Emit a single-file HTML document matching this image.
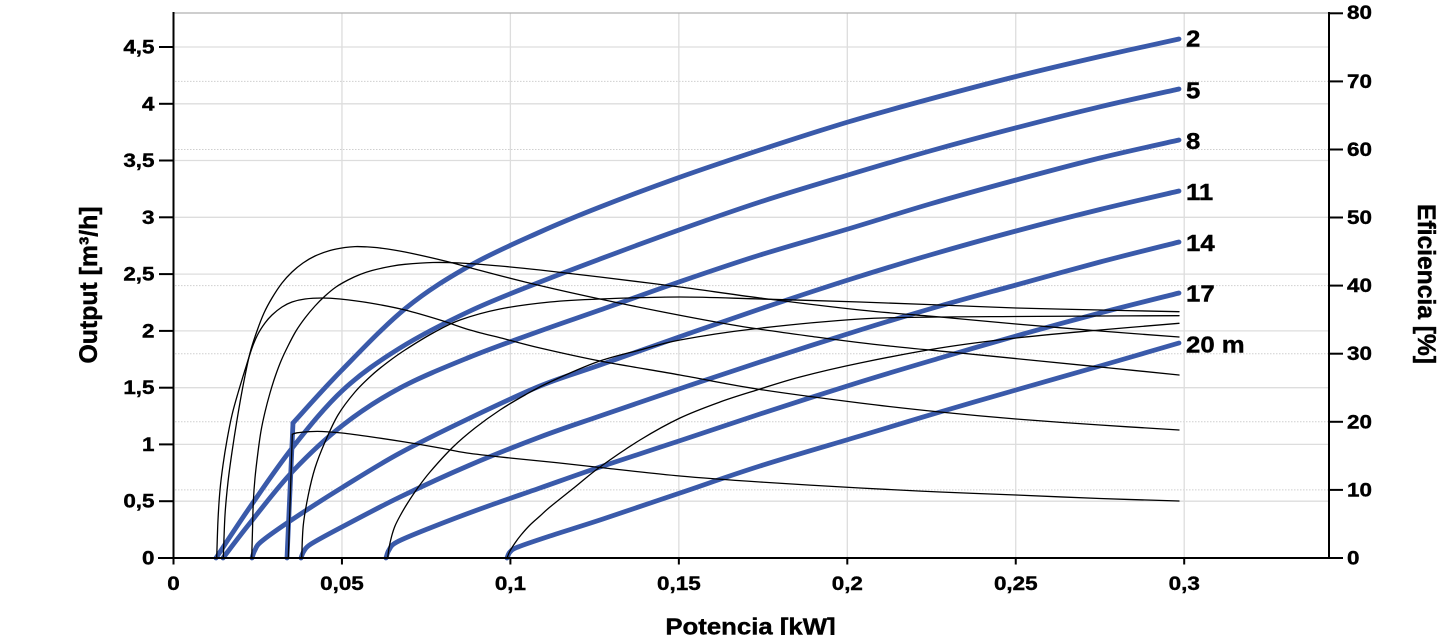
<!DOCTYPE html>
<html>
<head>
<meta charset="utf-8">
<style>
  html,body{margin:0;padding:0;background:#fff;}
  svg{display:block;}
  text{font-family:"Liberation Sans",Arial,sans-serif;font-weight:bold;fill:#000;}
  .lbl text{stroke:#000;stroke-width:0.4;}
</style>
</head>
<body>
<svg width="1445" height="635" viewBox="0 0 1445 635">
  <rect x="0" y="0" width="1445" height="635" fill="#fff"/>

  <!-- dotted grid (right axis ticks) -->
  <g stroke="#cfcfcf" stroke-width="1" stroke-dasharray="1.5 1.5">
    <line x1="175" y1="489.9" x2="1328" y2="489.9"/>
    <line x1="175" y1="421.8" x2="1328" y2="421.8"/>
    <line x1="175" y1="353.7" x2="1328" y2="353.7"/>
    <line x1="175" y1="285.6" x2="1328" y2="285.6"/>
    <line x1="175" y1="217.5" x2="1328" y2="217.5"/>
    <line x1="175" y1="149.5" x2="1328" y2="149.5"/>
    <line x1="175" y1="81.4" x2="1328" y2="81.4"/>
  </g>
  <!-- solid grid (left axis ticks) -->
  <g stroke="#dddddd" stroke-width="1.3">
    <line x1="175" y1="501.2" x2="1328" y2="501.2"/>
    <line x1="175" y1="444.4" x2="1328" y2="444.4"/>
    <line x1="175" y1="387.7" x2="1328" y2="387.7"/>
    <line x1="175" y1="330.9" x2="1328" y2="330.9"/>
    <line x1="175" y1="274.1" x2="1328" y2="274.1"/>
    <line x1="175" y1="217.3" x2="1328" y2="217.3"/>
    <line x1="175" y1="160.5" x2="1328" y2="160.5"/>
    <line x1="175" y1="103.8" x2="1328" y2="103.8"/>
    <line x1="175" y1="47.0" x2="1328" y2="47.0"/>
    <line x1="341.95" y1="13" x2="341.95" y2="557"/>
    <line x1="510.4" y1="13" x2="510.4" y2="557"/>
    <line x1="678.85" y1="13" x2="678.85" y2="557"/>
    <line x1="847.3" y1="13" x2="847.3" y2="557"/>
    <line x1="1015.75" y1="13" x2="1015.75" y2="557"/>
    <line x1="1184.2" y1="13" x2="1184.2" y2="557"/>
  </g>
  <!-- top frame -->
  <line x1="173.5" y1="13" x2="1329" y2="13" stroke="#b0b0b0" stroke-width="1.2"/>

  <!-- blue output curves -->
  <g id="blue" fill="none" stroke="#3a5aaa" stroke-width="4.8" stroke-linecap="round" stroke-linejoin="round">
    <polyline points="287,558 293,423"/>
    <polyline points="293,423 341,371 406,308 471,265 540,232 600,207 679,177.5 760,150 848,122 930,99 1016,76.5 1100,56.5 1179,39"/>
    <polyline points="216,558 250,507 293,447 343,390 400,348 470,311 540,282 600,259 679,230 760,202 848,175 930,151 1016,127.8 1100,106.8 1179,89"/>
    <polyline points="223,558 250,523 293,471 343,425 400,388 470,357 540,331 600,310 679,282 760,255 848,229 930,204 1016,180 1100,158 1179,140"/>
    <polyline points="252,558 255,550 262,541 293,519 343,487 400,453 470,418 540,386 600,365 679,337 760,309 848,280 930,255 1016,231 1100,209.5 1179,191"/>
    <polyline points="301,558 304,551 311,544 340,528 400,497 470,465 540,437 600,416 679,389 760,362 860,330 940,306 1016,285 1100,262 1179,242"/>
    <polyline points="386,558 389,550 397,542 430,528 480,509 540,488 600,467 679,441 760,414 860,382 940,358 1016,336 1100,313 1179,293"/>
    <polyline points="507,558 510,552 518,547 550,536 603,519 680,493 760,466 860,436 940,412 1016,390 1100,366 1179,343"/>
  </g>

  <!-- black efficiency curves -->
  <g id="black" fill="none" stroke="#000" stroke-width="1.3" stroke-linecap="round" stroke-linejoin="round">
    <polyline points="223.3,558 225,515 228,482 232,452 237,420 243,386 250,353 257,331 264,313 272,298 282,283 292,272 303,263 315,256 330,250.5 345,247.5 355,246.6 365,246.8 380,248 405,252 445,261 471,268 525,282 586,296 663,312 739,326 816,337 880,345 960,353 1040,361 1110,368 1179,375"/>
    <polyline points="216.7,558 218,520 220,490 223,465 227,440 232,415 238,393 245,370 252,348 258,334 265,323 272,315 282,307 292,302 305,299 322,298 340,299 370,303 405,310 440,320 470,330 505,339 540,348 600,361 680,375 757,389 860,403 940,412 1016,419 1100,425 1179,430"/>
    <polyline points="251.7,558 252.5,530 253.3,502 255,478 258,452 261,431 265,412 270,393 275,377 281,361 288,346 296,331 305,318 315,306 325,296 336,287 348,280 360,274.5 372,270.5 390,266.5 405,264.3 433,262.5 460,263 500,266 540,270 600,277 680,287 760,298 860,310 940,317 1016,324 1100,331 1179,337"/>
    <polyline points="301.7,558 303.3,525 308.3,495 315,468 325,442 338,415 355,392 372,375 388,362 405,350 433,333 460,320 500,309 550,302 600,299 680,297 760,299 860,302 940,305 1016,308 1100,310 1179,311.7"/>
    <polyline points="387.7,558 389,548 391.7,536 395,526 400,516 407,504 417,489 430,472 453,447 475,428 500,410 525,395 550,382 597,362 640,350 680,340 753,329 860,319 940,317 1016,316.5 1100,316 1179,315.7"/>
    <polyline points="288.3,558 292.3,434.3"/>
    <polyline points="292.3,434.3 297,432.8 310,431.6 322,431.5 342,433 372,437 405,442 440,448 467,453 510,458 550,462 600,467.5 680,476 760,482 860,488 940,492 1016,495 1100,498.5 1179,501"/>
    <polyline points="507,558 510,551 515,543 521,535 530,525 540,516 550,507 575,487 600,467 640,440 680,418 720,402 757,390 800,377 860,363 940,348 1016,338 1100,330 1179,323.3"/>
  </g>

  <!-- axes -->
  <g stroke="#000" stroke-width="2">
    <line x1="173.5" y1="12" x2="173.5" y2="559"/>
    <line x1="158" y1="558" x2="1330" y2="558"/>
    <line x1="1329" y1="12" x2="1329" y2="559"/>
    <line x1="159" y1="558" x2="173.5" y2="558"/>
    <line x1="159" y1="501.2" x2="173.5" y2="501.2"/>
    <line x1="159" y1="444.4" x2="173.5" y2="444.4"/>
    <line x1="159" y1="387.7" x2="173.5" y2="387.7"/>
    <line x1="159" y1="330.9" x2="173.5" y2="330.9"/>
    <line x1="159" y1="274.1" x2="173.5" y2="274.1"/>
    <line x1="159" y1="217.3" x2="173.5" y2="217.3"/>
    <line x1="159" y1="160.5" x2="173.5" y2="160.5"/>
    <line x1="159" y1="103.8" x2="173.5" y2="103.8"/>
    <line x1="159" y1="47.0" x2="173.5" y2="47.0"/>
    <line x1="1329" y1="558" x2="1343" y2="558"/>
    <line x1="1329" y1="489.9" x2="1343" y2="489.9"/>
    <line x1="1329" y1="421.8" x2="1343" y2="421.8"/>
    <line x1="1329" y1="353.7" x2="1343" y2="353.7"/>
    <line x1="1329" y1="285.6" x2="1343" y2="285.6"/>
    <line x1="1329" y1="217.5" x2="1343" y2="217.5"/>
    <line x1="1329" y1="149.5" x2="1343" y2="149.5"/>
    <line x1="1329" y1="81.4" x2="1343" y2="81.4"/>
    <line x1="1329" y1="13.3" x2="1343" y2="13.3"/>
    <line x1="173.5" y1="558" x2="173.5" y2="564.5"/>
    <line x1="341.95" y1="558" x2="341.95" y2="564.5"/>
    <line x1="510.4" y1="558" x2="510.4" y2="564.5"/>
    <line x1="678.85" y1="558" x2="678.85" y2="564.5"/>
    <line x1="847.3" y1="558" x2="847.3" y2="564.5"/>
    <line x1="1015.75" y1="558" x2="1015.75" y2="564.5"/>
    <line x1="1184.2" y1="558" x2="1184.2" y2="564.5"/>
  </g>

  <g class="lbl">
  <!-- left tick labels -->
  <g font-size="19.5" text-anchor="end">
    <text transform="translate(154.5,564.5) scale(1.15,1)">0</text>
    <text transform="translate(154.5,507.7) scale(1.15,1)">0,5</text>
    <text transform="translate(154.5,450.9) scale(1.15,1)">1</text>
    <text transform="translate(154.5,394.2) scale(1.15,1)">1,5</text>
    <text transform="translate(154.5,337.4) scale(1.15,1)">2</text>
    <text transform="translate(154.5,280.6) scale(1.15,1)">2,5</text>
    <text transform="translate(154.5,223.8) scale(1.15,1)">3</text>
    <text transform="translate(154.5,167.0) scale(1.15,1)">3,5</text>
    <text transform="translate(154.5,110.3) scale(1.15,1)">4</text>
    <text transform="translate(154.5,53.5) scale(1.15,1)">4,5</text>
  </g>

  <!-- bottom tick labels -->
  <g font-size="19.5" text-anchor="middle">
    <text transform="translate(173.5,590) scale(1.15,1)">0</text>
    <text transform="translate(341.95,590) scale(1.15,1)">0,05</text>
    <text transform="translate(510.4,590) scale(1.15,1)">0,1</text>
    <text transform="translate(678.85,590) scale(1.15,1)">0,15</text>
    <text transform="translate(847.3,590) scale(1.15,1)">0,2</text>
    <text transform="translate(1015.75,590) scale(1.15,1)">0,25</text>
    <text transform="translate(1184.2,590) scale(1.15,1)">0,3</text>
  </g>

  <!-- right tick labels -->
  <g font-size="19.5" text-anchor="start">
    <text transform="translate(1347,564.5) scale(1.15,1)">0</text>
    <text transform="translate(1347,496.4) scale(1.15,1)">10</text>
    <text transform="translate(1347,428.3) scale(1.15,1)">20</text>
    <text transform="translate(1347,360.2) scale(1.15,1)">30</text>
    <text transform="translate(1347,292.1) scale(1.15,1)">40</text>
    <text transform="translate(1347,224.0) scale(1.15,1)">50</text>
    <text transform="translate(1347,156.0) scale(1.15,1)">60</text>
    <text transform="translate(1347,87.9) scale(1.15,1)">70</text>
    <text transform="translate(1347,19.0) scale(1.15,1)">80</text>
  </g>

  <!-- curve labels -->
  <g font-size="23" text-anchor="start">
    <text transform="translate(1186,46.7) scale(1.12,1)">2</text>
    <text transform="translate(1186,98.3) scale(1.12,1)">5</text>
    <text transform="translate(1186,149) scale(1.12,1)">8</text>
    <text transform="translate(1186,200) scale(1.12,1)">11</text>
    <text transform="translate(1186,251) scale(1.12,1)">14</text>
    <text transform="translate(1186,301.7) scale(1.12,1)">17</text>
    <text transform="translate(1186,352.7) scale(1.12,1)">20 m</text>
  </g>

  <!-- axis titles -->
  <text font-size="23" text-anchor="middle" transform="translate(750.5,634.5) scale(1.12,1)">Potencia [kW]</text>
  <text font-size="22" text-anchor="middle" textLength="157" lengthAdjust="spacingAndGlyphs" transform="translate(97,285) scale(1.15,1) rotate(-90)">Output [m³/h]</text>
  <text font-size="22" text-anchor="middle" textLength="160" lengthAdjust="spacingAndGlyphs" transform="translate(1418,284) scale(1.15,1) rotate(90)">Eficiencia [%]</text>
  </g>
</svg>
<script>
(function(){
  ['blue','black'].forEach(function(id){
    var g=document.getElementById(id);
    if(!g) return;
    var pls=g.querySelectorAll('polyline');
    var out='';
    for(var k=0;k<pls.length;k++){
      var nums=pls[k].getAttribute('points').trim().split(/[\s,]+/).map(Number);
      var p=[];
      for(var i=0;i<nums.length;i+=2)p.push([nums[i],nums[i+1]]);
      var d='M'+p[0][0]+','+p[0][1];
      for(var i=0;i<p.length-1;i++){
        var p0=p[i-1]||p[i],p1=p[i],p2=p[i+1],p3=p[i+2]||p[i+1];
        var c1x=p1[0]+(p2[0]-p0[0])/6,c1y=p1[1]+(p2[1]-p0[1])/6;
        var c2x=p2[0]-(p3[0]-p1[0])/6,c2y=p2[1]-(p3[1]-p1[1])/6;
        d+='C'+c1x.toFixed(2)+','+c1y.toFixed(2)+' '+c2x.toFixed(2)+','+c2y.toFixed(2)+' '+p2[0]+','+p2[1];
      }
      out+='<path d="'+d+'"/>';
    }
    try{ g.innerHTML=out; }catch(e){}
  });
})();
</script>
</body>
</html>
